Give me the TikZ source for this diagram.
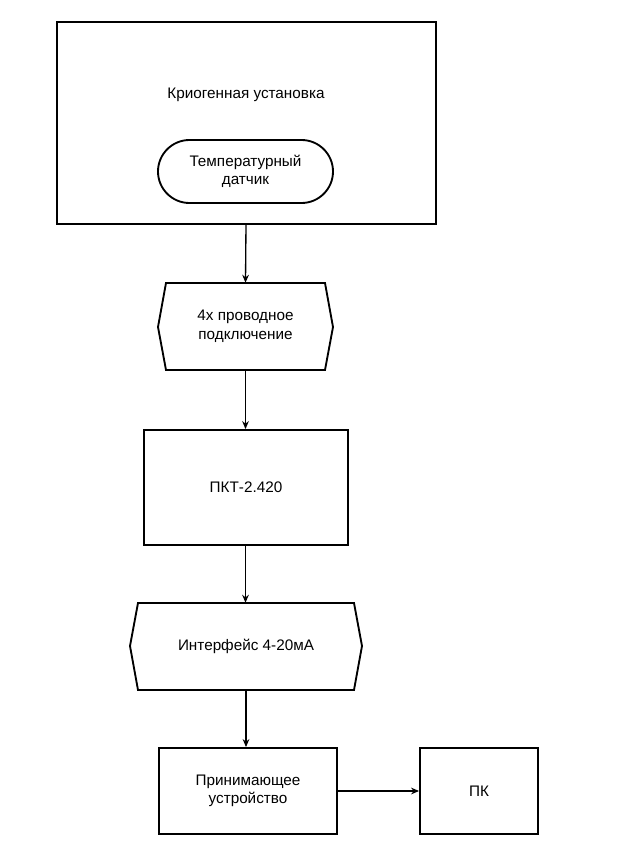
\documentclass[tikz,border=0pt]{standalone}
\usepackage{fontspec}
\setmainfont{Liberation Sans}
\usetikzlibrary{arrows.meta,shapes.misc}
\begin{document}
\begin{tikzpicture}[x=0.02646cm,y=-0.02646cm,
  box/.style={draw,line width=1.4pt,inner sep=0pt},
  lbl/.style={align=center,font=\fontsize{11.5}{14}\selectfont},
  arr/.style={line width=1pt,-{Stealth[length=6pt,width=5pt]}}]
\useasboundingbox (0,0) rectangle (631,866);
\draw[line width=1.4pt] (57,22) rectangle (436,224);
\coordinate (outerb) at (246,224);
\node[lbl] (kr) at (246,95) {Криогенная установка};
\node[box,rounded rectangle,minimum width=175*0.02646cm,minimum height=63*0.02646cm,lbl] (td) at (245.5,171.5) {Температурный\\датчик};
\draw[line width=1.4pt] (166,283)--(325,283)--(333,327)--(325,370)--(166,370)--(158,327)--cycle;
\node[lbl,minimum width=175*0.02646cm,minimum height=87*0.02646cm] (h1) at (245.5,326.5) {4х проводное\\подключение};
\node[box,lbl,minimum width=204*0.02646cm,minimum height=115*0.02646cm] (pkt) at (246,487.5) {ПКТ-2.420};
\draw[line width=1.4pt] (138,603)--(354,603)--(362,646)--(354,690)--(138,690)--(130,646)--cycle;
\node[lbl,minimum width=232*0.02646cm,minimum height=87*0.02646cm] (h2) at (246,646.5) {Интерфейс 4-20мА};
\node[box,lbl,minimum width=178*0.02646cm,minimum height=86*0.02646cm] (pr) at (248,791) {Принимающее\\устройство};
\node[box,lbl,minimum width=118*0.02646cm,minimum height=86*0.02646cm] (pk) at (479,791) {ПК};
\draw[arr] (outerb) -- (h1.north);
\draw[arr] (h1.south) -- (h1.south |- pkt.north);
\draw[arr] (h1.south |- pkt.south) -- (h1.south |- h2.north);
\draw[arr] (h2.south) -- (h2.south |- pr.north);
\draw[arr] (pr.east) -- (pk.west);
\end{tikzpicture}
\end{document}
